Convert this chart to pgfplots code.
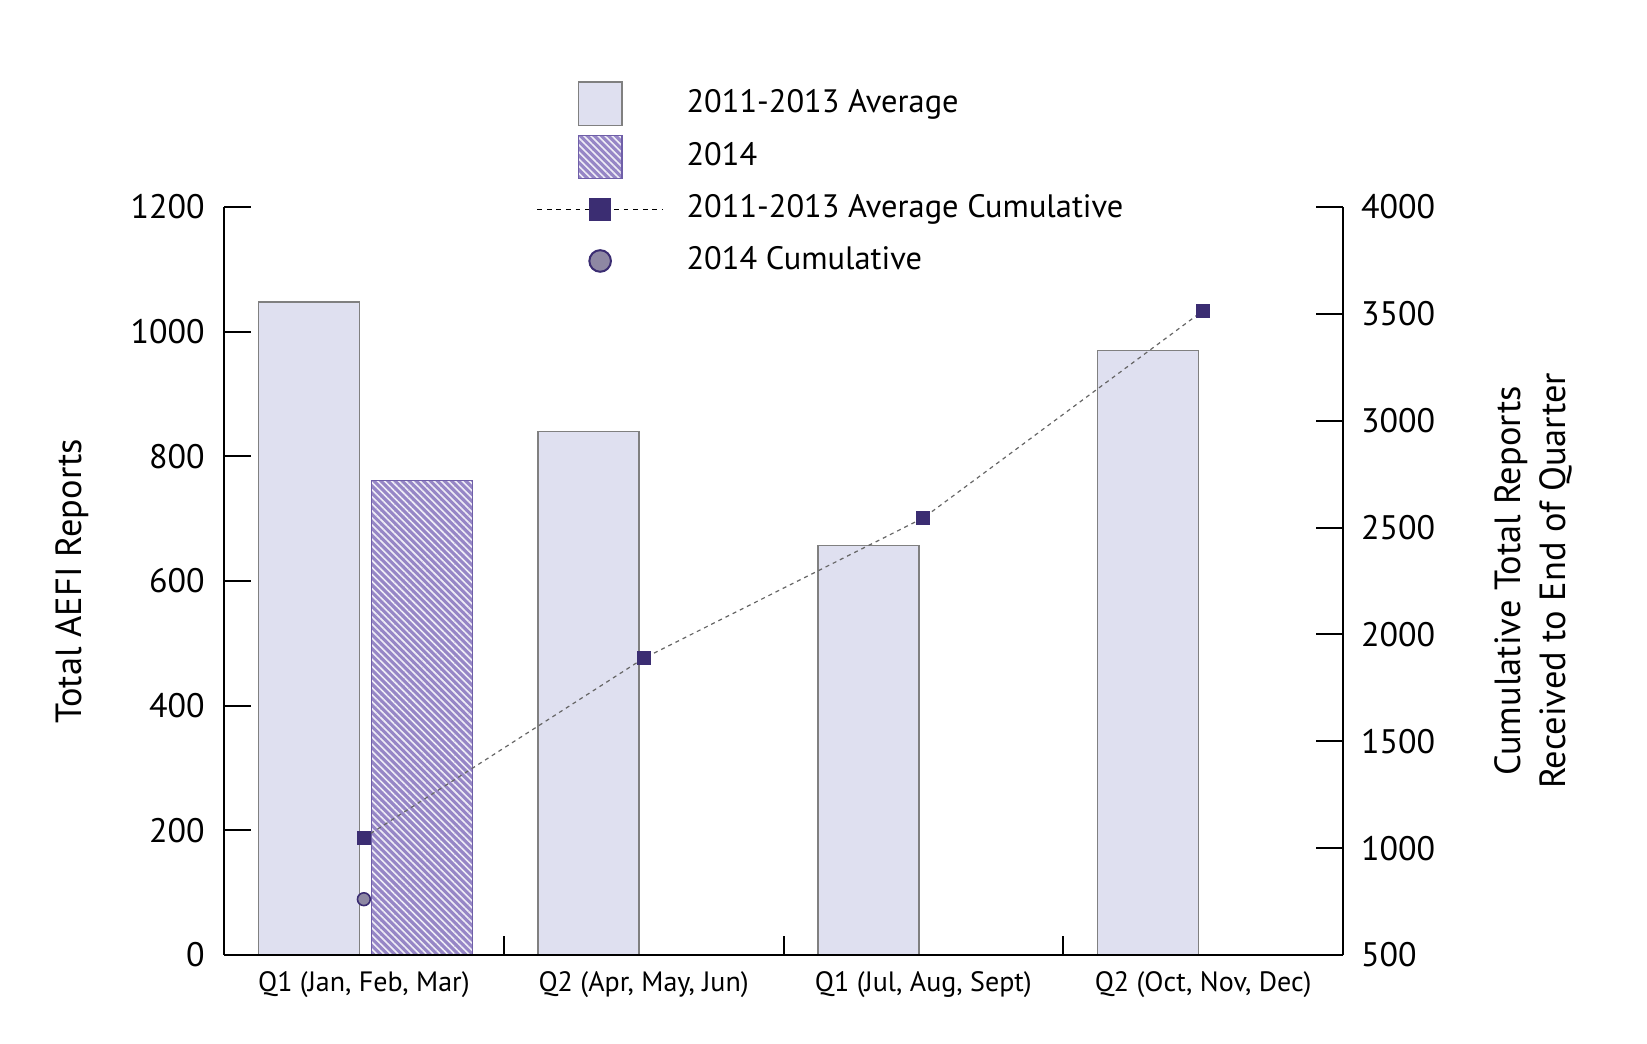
\documentclass[border=0pt]{standalone}
\usepackage{pgfplots}
\pgfplotsset{compat=1.18}
\usepackage{fontspec}
\setmainfont{PT Sans}
\usetikzlibrary{patterns.meta}

\definecolor{avgfill}{HTML}{DFE0F0}
\definecolor{avgedge}{HTML}{808080}
\definecolor{hatchbase}{HTML}{9686C6}
\definecolor{hatchedge}{HTML}{6F5FA8}
\definecolor{navy}{HTML}{3B2D72}
\definecolor{circfill}{HTML}{8E88A3}

\newcommand{\legendbox}{\pgfpathrectangle{\pgfpoint{-15.75pt}{-5.4pt}}{\pgfpoint{31.5pt}{10.8pt}}\pgfusepath{discard}}

\begin{document}
\begin{tikzpicture}
\pgfplotsset{
  base/.style={width=279.75pt, height=187pt, scale only axis, xmin=0, xmax=4,
    axis line style={line width=0.5pt, black}, tick style={line width=0.5pt, black},
    tick align=inside,
    ticklabel style={font=\fontsize{8.5}{10}\selectfont},
    label style={font=\fontsize{9.1}{11.3}\selectfont},
    /pgf/number format/assume math mode=true,
    /pgf/number format/1000 sep={}},
  boxlegend/.style={legend image code/.code={
    \legendbox
    \draw[##1,/tikz/.cd] (-5.4pt,-5.4pt) rectangle (5.4pt,5.4pt);}},
}
% bars, left axis
\begin{axis}[base, name=main, axis y line*=left, axis x line=none,
  ymin=0, ymax=1200, ytick={0,200,...,1200}, major tick length=6.75pt,
  yticklabel style={xshift=-1.3pt},
  ylabel={Total AEFI Reports},
  ylabel style={at={(axis description cs:-0.1358,0.5)}, anchor=center},
  legend style={draw=none, fill=none, inner sep=0pt, row sep=2.1pt,
    at={(0.2786,1.169)}, anchor=north west, legend cell align=left,
    font=\fontsize{8.1}{10}\selectfont,
    nodes={inner sep=0pt},
    /tikz/every odd column/.append style={column sep=5.7pt}},
]
\addplot[ybar, bar width=25.25pt, bar shift=-13.75pt, fill=avgfill, draw=avgedge,
  line width=0.4pt, boxlegend] coordinates {(0.5,1048) (1.5,840) (2.5,657) (3.5,970)};
\addlegendentry{2011-2013 Average}
\addplot[ybar, bar width=25.25pt, bar shift=14.5pt, fill=hatchbase, draw=hatchedge,
  line width=0.4pt, boxlegend,
  postaction={pattern={Lines[angle=-45,distance=1.25pt,line width=0.4pt]},
    pattern color=white!85!hatchbase}] coordinates {(0.5,761)};
\addlegendentry{2014}
\addlegendimage{legend image code/.code={
    \legendbox
    \draw[black, line width=0.3pt, dash pattern=on 1.2pt off 1.2pt] (-15.75pt,0) -- (15.75pt,0);
    \fill[navy] (-2.6pt,-2.6pt) rectangle (2.6pt,2.6pt);}}
\addlegendentry{2011-2013 Average Cumulative}
\addlegendimage{legend image code/.code={
    \legendbox
    \draw[navy, fill=circfill, line width=0.5pt] (0,0) circle (2.7pt);}}
\addlegendentry{2014 Cumulative}
\end{axis}
% x axis with quarter labels
\begin{axis}[base, axis y line=none, axis x line*=bottom, ymin=0, ymax=1,
  xtick={0,1,2,3,4}, x tick label as interval, major tick length=4.75pt,
  xticklabels={{Q1 (Jan, Feb, Mar)},{Q2 (Apr, May, Jun)},{Q1 (Jul, Aug, Sept)},{Q2 (Oct, Nov, Dec)}},
  xticklabel style={font=\fontsize{7}{8}\selectfont, yshift=-0.5pt},
]
\addplot[draw=none] coordinates {(0,0)};
\end{axis}
% cumulative, right axis
\begin{axis}[base, axis y line*=right, axis x line=none,
  ymin=500, ymax=4000, ytick={500,1000,...,4000}, major tick length=6.75pt,
  yticklabel style={xshift=1pt},
  ylabel={Cumulative Total Reports\\Received to End of Quarter},
  ylabel style={align=center, at={(axis description cs:1.170,0.5)}, anchor=center},
]
\addplot[color=black!60, line width=0.3pt, dash pattern=on 1pt off 1pt, mark=square*, mark size=1.6pt,
  mark options={solid, fill=navy, draw=navy}] coordinates {(0.5,1048) (1.5,1888) (2.5,2545) (3.5,3515)};
\addplot[only marks, mark=*, mark size=1.6pt, mark options={fill=circfill, draw=navy, line width=0.4pt}]
  coordinates {(0.5,761)};
\end{axis}
\pgfresetboundingbox
\path[use as bounding box] (main.south west) ++(-56pt,-22.25pt) rectangle ++(411.75pt,261pt);
\end{tikzpicture}
\end{document}
